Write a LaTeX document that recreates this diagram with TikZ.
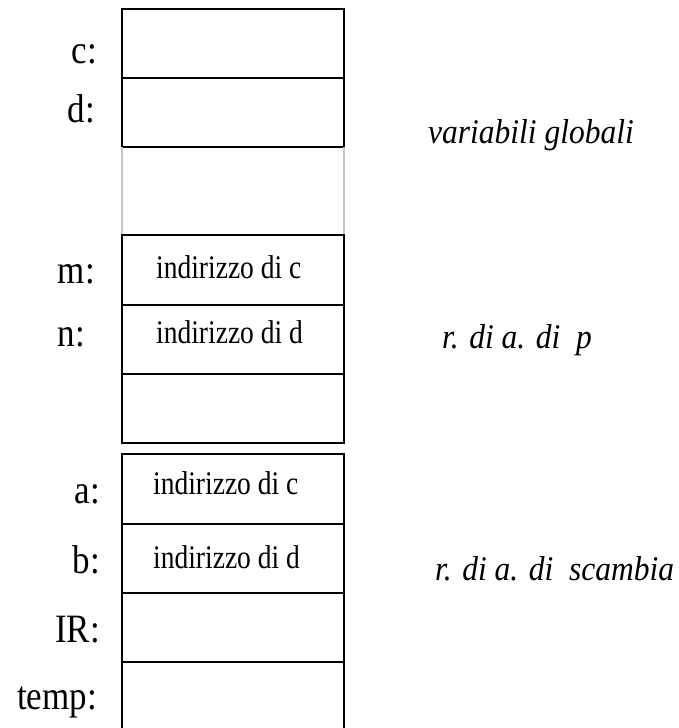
\documentclass[tikz,border=0pt]{standalone}
\usepackage{graphicx}
\usepackage{fontspec}
\setmainfont{Liberation Serif}
% tall lettering used in the stack diagram
\newcommand{\tallvar}[1]{\scalebox{1}[1.15]{#1}}
\newcommand{\tallcell}[1]{\scalebox{1}[1.2]{#1}}
\newcommand{\tallarea}[1]{\scalebox{1}[1.1]{#1}}
\begin{document}
\begin{tikzpicture}[x=1pt,y=-1pt,
  cell/.style={draw=black, line width=2pt, minimum width=222pt, anchor=north west,
               inner sep=0pt, outer sep=0pt},
  varname/.style={anchor=base east, inner sep=0pt, font=\fontsize{35}{40}\selectfont},
  content/.style={anchor=base west, inner sep=0pt, font=\fontsize{27.5}{32}\selectfont},
  area/.style={anchor=base west, inner sep=0pt, font=\fontsize{31.5}{36}\selectfont\itshape}]
\useasboundingbox (0,0) rectangle (678,728);

% global variables
\node[cell, minimum height=69pt] (cc) at (122,9) {};
\node[cell, minimum height=69pt] (cd) at (122,78) {};
% unused gap between the areas (grey sides)
\coordinate (gtl) at (122,147);
\coordinate (gtr) at (344,147);
\coordinate (gbl) at (122,235);
\coordinate (gbr) at (344,235);
\draw[gray!45, line width=2pt] (gtl) -- (gbl) (gtr) -- (gbr);

% activation record of p
\node[cell, minimum height=70pt] (cm) at (122,235) {};
\node[cell, minimum height=69pt] (cn) at (122,305) {};
\node[cell, minimum height=69pt] (ce) at (122,374) {};

% activation record of scambia
\node[cell, minimum height=70pt] (ca) at (122,454) {};
\node[cell, minimum height=69pt] (cb) at (122,524) {};
\node[cell, minimum height=69pt] (cir) at (122,593) {};
\node[cell, minimum height=80pt] (ctemp) at (122,662) {};

% variable names
\node[varname] (lc) at (97,63) {\tallvar{c:}};
\node[varname] (ld) at (95,122) {\tallvar{d:}};
\node[varname] (lm) at (95,283) {\tallvar{m:}};
\node[varname] (ln) at (85,346) {\tallvar{n:}};
\node[varname] (la) at (100,503) {\tallvar{a:}};
\node[varname] (lb) at (100,573) {\tallvar{b:}};
\node[varname] (lir) at (100,642) {\tallvar{IR:}};
\node[varname] (ltemp) at (97,709) {\tallvar{temp:}};

% cell contents
\node[content] (tm) at (156,278) {\tallcell{indirizzo di c}};
\node[content] (tn) at (156,343) {\tallcell{indirizzo di d}};
\node[content] (ta) at (153,494) {\tallcell{indirizzo di c}};
\node[content] (tb) at (153,568) {\tallcell{indirizzo di d}};

% area captions
\node[area] (glob) at (428,143) {\tallarea{variabili globali}};
\node[area] (rap) at (442,348) {\tallarea{r. di a. di~~p}};
\node[area] (ras) at (435,580) {\tallarea{r. di a. di~~scambia}};
\end{tikzpicture}
\end{document}
